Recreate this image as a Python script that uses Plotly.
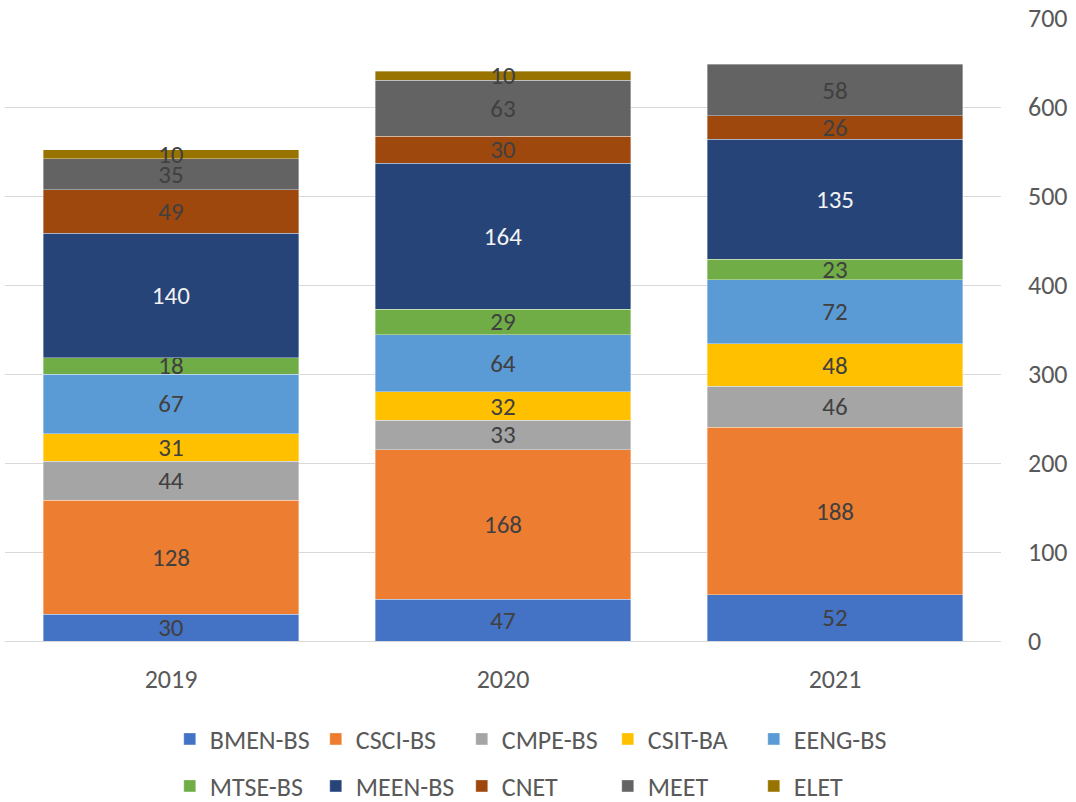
import plotly.graph_objects as go

years = ["2019", "2020", "2021"]
programs = ["BMEN-BS", "CSCI-BS", "CMPE-BS", "CSIT-BA", "EENG-BS",
            "MTSE-BS", "MEEN-BS", "CNET", "MEET", "ELET"]
bmen = [30, 47, 52]
csci = [128, 168, 188]
cmpe = [44, 33, 46]
csit = [31, 32, 48]
eeng = [67, 64, 72]
mtse = [18, 29, 23]
meen = [140, 164, 135]
cnet = [49, 30, 26]
meet = [35, 63, 58]
elet = [10, 10, None]
values = [bmen, csci, cmpe, csit, eeng, mtse, meen, cnet, meet, elet]
colors = ["#4472C4", "#ED7D31", "#A5A5A5", "#FFC000", "#5B9BD5",
          "#70AD47", "#264478", "#9E480E", "#636363", "#997300"]
text_colors = ["#404040"] * 6 + ["#F2F2F2"] + ["#404040"] * 3

FONT = 'Carlito, "Liberation Sans Narrow", "Open Sans", sans-serif'
FS = 26

fig = go.Figure()
for i, (name, vals, col, tc) in enumerate(zip(programs, values, colors, text_colors)):
    fig.add_trace(go.Bar(
        x=years, y=vals, name=name,
        marker=dict(color=col, line=dict(color="rgba(255,255,255,0.45)", width=0.8)),
        text=[("" if v is None else str(v)) for v in vals],
        textposition="inside", insidetextanchor="middle", textangle=0,
        constraintext="none", cliponaxis=False,
        textfont=dict(family=FONT, size=FS - 1, color=tc),
        legend="legend" if i < 5 else "legend2",
        hoverinfo="skip",
    ))

leg_common = dict(orientation="h", x=0.497, xanchor="center", xref="container",
                  yanchor="middle", yref="container", traceorder="normal",
                  entrywidth=101, itemwidth=30,
                  font=dict(family=FONT, size=FS, color="#595959"))

fig.update_layout(
    barmode="stack", bargap=0.23,
    width=1076, height=802,
    margin=dict(l=5, r=75, t=18, b=161, autoexpand=False),
    paper_bgcolor="white", plot_bgcolor="white",
    uniformtext=dict(minsize=FS - 1, mode="show"),
    font=dict(family=FONT, color="#595959"),
    xaxis=dict(showgrid=False, showline=False, ticks="", ticklabelstandoff=20,
               automargin=False,
               tickfont=dict(family=FONT, size=FS, color="#595959")),
    yaxis=dict(side="right", range=[0, 700], dtick=100, showline=False,
               gridcolor="#D9D9D9", gridwidth=1.3, zeroline=True,
               zerolinecolor="#D9D9D9", zerolinewidth=1.3, ticks="",
               ticklabelstandoff=26, automargin=False,
               tickfont=dict(family=FONT, size=FS, color="#595959")),
    legend=dict(y=(802 - 739) / 802, **leg_common),
    legend2=dict(y=(802 - 786) / 802, **leg_common),
)

fig.write_html("out.html",
               config={"displayModeBar": False},
               post_script="document.body.style.margin='0';document.body.style.padding='0';")
